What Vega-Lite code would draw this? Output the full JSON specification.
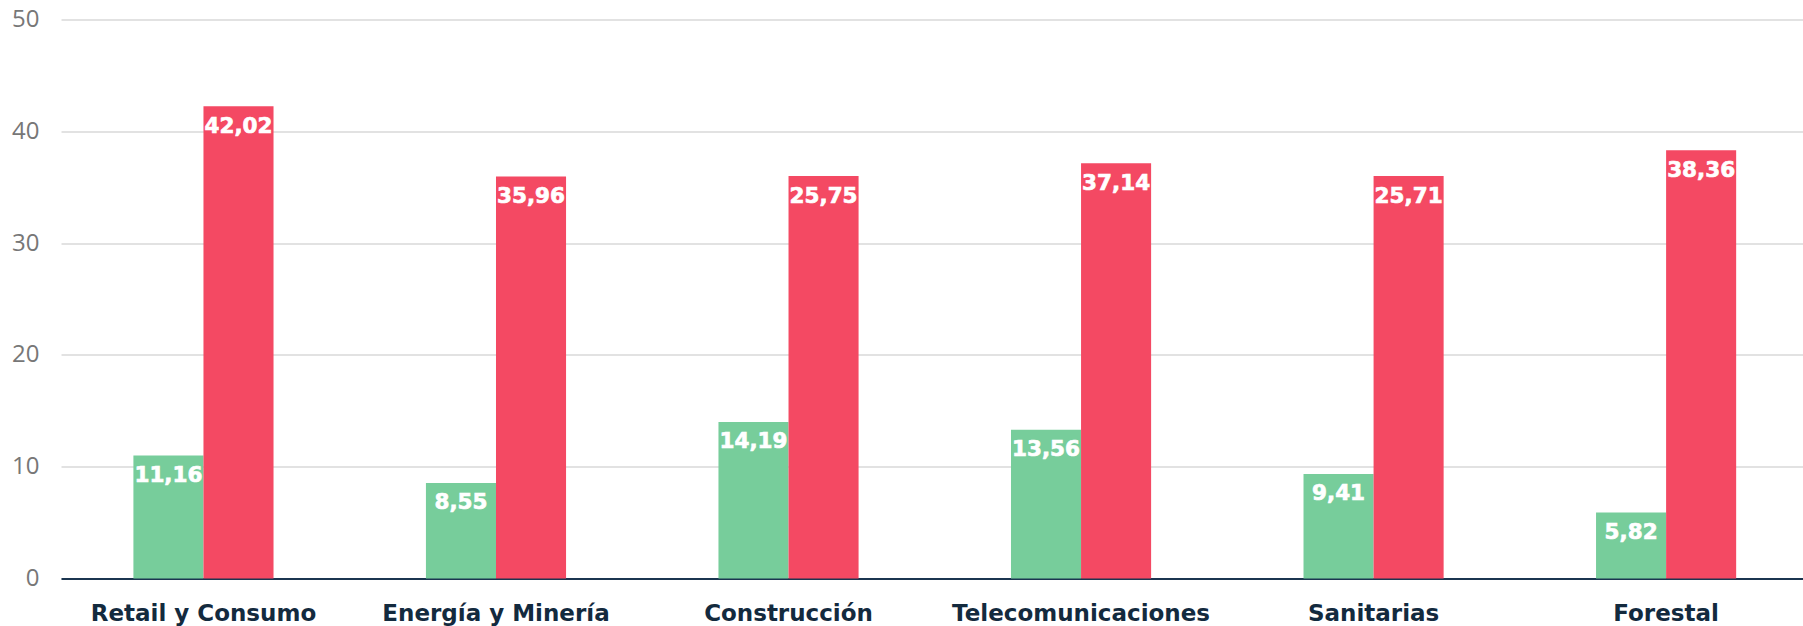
{
  "$schema": "https://vega.github.io/schema/vega-lite/v6.json",
  "autosize": {"type": "none"},
  "width": 1742,
  "height": 559,
  "padding": {"left": 61, "top": 19.5, "right": 0, "bottom": 47.5},
  "background": "white",
  "config": {"view": {"stroke": null}},
  "data": {
    "values": [
      {"sector": "Retail y Consumo", "serie": "Serie 1", "valor": 11.0, "etiqueta": "11,16"},
      {"sector": "Retail y Consumo", "serie": "Serie 2", "valor": 42.25, "etiqueta": "42,02"},
      {"sector": "Energía y Minería", "serie": "Serie 1", "valor": 8.55, "etiqueta": "8,55"},
      {"sector": "Energía y Minería", "serie": "Serie 2", "valor": 35.96, "etiqueta": "35,96"},
      {"sector": "Construcción", "serie": "Serie 1", "valor": 14.0, "etiqueta": "14,19"},
      {"sector": "Construcción", "serie": "Serie 2", "valor": 36.0, "etiqueta": "25,75"},
      {"sector": "Telecomunicaciones", "serie": "Serie 1", "valor": 13.3, "etiqueta": "13,56"},
      {"sector": "Telecomunicaciones", "serie": "Serie 2", "valor": 37.14, "etiqueta": "37,14"},
      {"sector": "Sanitarias", "serie": "Serie 1", "valor": 9.35, "etiqueta": "9,41"},
      {"sector": "Sanitarias", "serie": "Serie 2", "valor": 36.0, "etiqueta": "25,71"},
      {"sector": "Forestal", "serie": "Serie 1", "valor": 5.9, "etiqueta": "5,82"},
      {"sector": "Forestal", "serie": "Serie 2", "valor": 38.3, "etiqueta": "38,36"}
    ]
  },
  "encoding": {
    "x": {
      "field": "sector", "type": "nominal", "sort": null, "title": null,
      "scale": {"paddingInner": 0.521, "paddingOuter": 0.238, "align": 0.52},
      "axis": {
        "labelAngle": 0, "ticks": false, "domainColor": "#1b3550", "domainWidth": 2,
        "labelFont": "DejaVu Sans", "labelFontWeight": "bold", "labelFontSize": 23,
        "labelColor": "#132a3e", "labelPadding": 24, "labelLimit": 0
      }
    },
    "xOffset": {"field": "serie", "type": "nominal", "sort": null, "scale": {"paddingInner": 0, "paddingOuter": 0}},
    "y": {
      "field": "valor", "type": "quantitative", "title": null,
      "scale": {"domain": [0, 50], "nice": false},
      "axis": {
        "values": [0, 10, 20, 30, 40, 50], "domain": false, "ticks": false,
        "gridColor": "#d9d9d9", "gridWidth": 1.5,
        "labelFont": "Open Sans", "labelFontSize": 24, "labelColor": "#777777", "labelPadding": 22
      }
    }
  },
  "layer": [
    {
      "mark": {"type": "bar"},
      "encoding": {
        "color": {
          "field": "serie", "type": "nominal", "legend": null,
          "scale": {"domain": ["Serie 1", "Serie 2"], "range": ["#77CD9B", "#F44963"]}
        }
      }
    },
    {
      "mark": {"type": "text", "baseline": "middle", "align": "center", "dy": 20.5, "color": "white",
        "stroke": "white", "strokeWidth": 0.7,
        "font": "DejaVu Sans", "fontWeight": "bold", "fontSize": 21.5},
      "encoding": {"text": {"field": "etiqueta", "type": "nominal"}}
    }
  ]
}
